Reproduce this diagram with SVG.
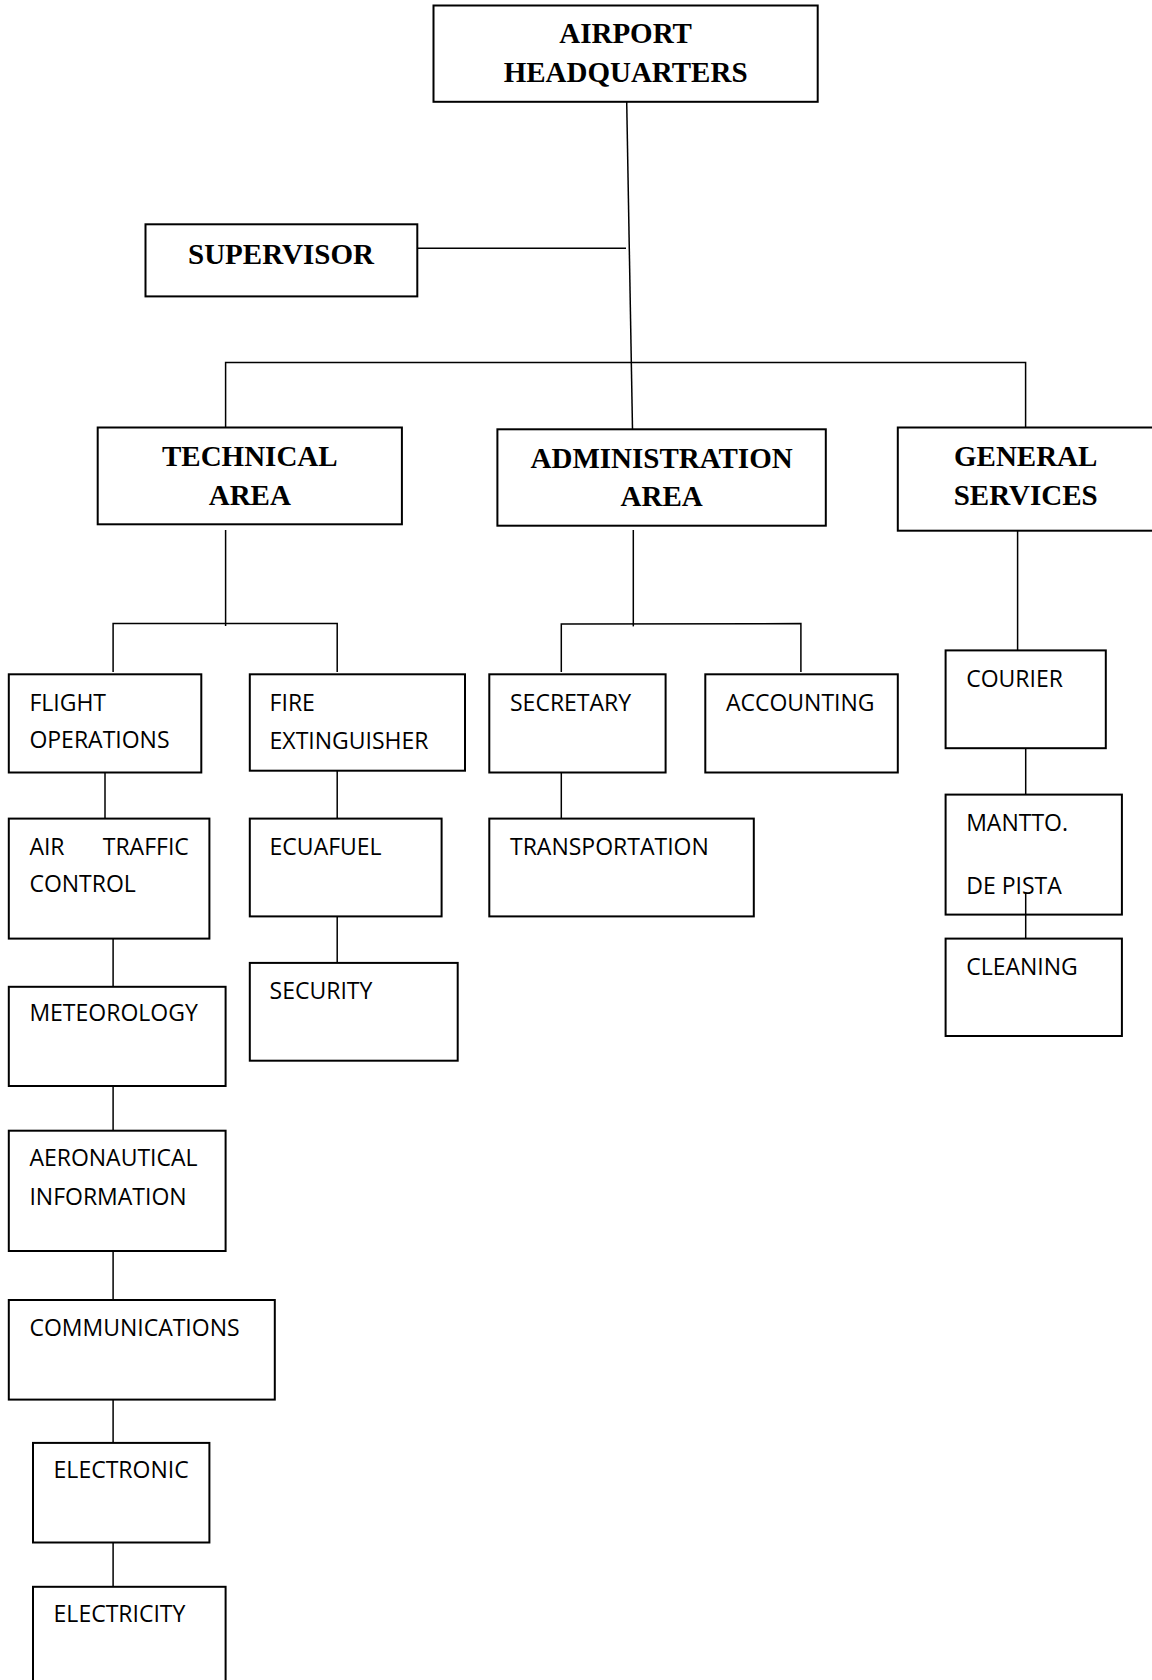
<svg xmlns="http://www.w3.org/2000/svg" width="1152" height="1680" viewBox="0 0 1152 1680">
<style>
rect{fill:#fff;stroke:#000;stroke-width:2}
.c line,.c path{stroke:#000;stroke-width:1.5;fill:none}
.t{font-family:"Liberation Serif","Times New Roman",serif;font-weight:bold;font-size:29px;text-anchor:middle;fill:#000}
.b{font-family:"Open Sans","Noto Sans",sans-serif;font-size:23px;fill:#000}
</style>
<rect x="0" y="0" width="1152" height="1680" style="stroke:none"/>
<g class="c" id="connectors">
<line x1="626.7" y1="101.8" x2="632.6" y2="435"/>
<line x1="417.3" y1="248.2" x2="626" y2="248.2"/>
<path d="M225.6,435 V362.5 H1025.6 V435"/>
<line x1="225.6" y1="530" x2="225.6" y2="626"/>
<path d="M113.1,672 V623.6 H337.2 V672"/>
<line x1="633.3" y1="530" x2="633.3" y2="626.4"/>
<path d="M561.3,672 V624 L800.9,623.6 V672"/>
<line x1="1017.6" y1="530.7" x2="1017.6" y2="650.4"/>
<line x1="105" y1="770.7" x2="105" y2="818.6"/>
<line x1="337.2" y1="770.7" x2="337.2" y2="818.6"/>
<line x1="337.2" y1="914.6" x2="337.2" y2="962.9"/>
<line x1="561.3" y1="770.7" x2="561.3" y2="818.6"/>
<line x1="113.1" y1="938.6" x2="113.1" y2="986.8"/>
<line x1="113.1" y1="1082.5" x2="113.1" y2="1130.7"/>
<line x1="113.1" y1="1251" x2="113.1" y2="1300"/>
<line x1="113.1" y1="1394.3" x2="113.1" y2="1442.9"/>
<line x1="113.1" y1="1537.9" x2="113.1" y2="1586.8"/>
<line x1="1025.7" y1="745.7" x2="1025.7" y2="794.6"/>
</g>
<g id="hq"><rect x="433.5" y="5.5" width="384.2" height="96.3"/><text class="t" x="625.6" y="43">AIRPORT</text><text class="t" x="625.6" y="82">HEADQUARTERS</text></g>
<g id="supervisor"><rect x="145.5" y="224.3" width="271.8" height="72.1"/><text class="t" x="281" y="263.5">SUPERVISOR</text></g>
<g id="technical"><rect x="97.7" y="427.5" width="304.2" height="96.8"/><text class="t" x="249.8" y="466">TECHNICAL</text><text class="t" x="249.8" y="505.4">AREA</text></g>
<g id="administration"><rect x="497.4" y="429.3" width="328.4" height="96.4"/><text class="t" x="661.6" y="468">ADMINISTRATION</text><text class="t" x="661.6" y="506.4">AREA</text></g>
<g id="general"><rect x="897.8" y="427.5" width="260" height="103.2"/><text class="t" x="1025.7" y="466">GENERAL</text><text class="t" x="1025.7" y="505.4">SERVICES</text></g>
<g id="flight"><rect x="8.8" y="674.3" width="192.5" height="98.2"/><text class="b" x="29.4" y="710.7">FLIGHT</text><text class="b" x="29.4" y="747.5">OPERATIONS</text></g>
<g id="fire"><rect x="249.8" y="674.3" width="215.2" height="96.4"/><text class="b" x="269.6" y="710.7">FIRE</text><text class="b" x="269.6" y="748.5">EXTINGUISHER</text></g>
<g id="secretary"><rect x="489.3" y="674.3" width="176.3" height="98.2"/><text class="b" x="510" y="710.7">SECRETARY</text></g>
<g id="accounting"><rect x="705.3" y="674.3" width="192.5" height="98.2"/><text class="b" x="725.9" y="710.7">ACCOUNTING</text></g>
<g id="courier"><rect x="945.6" y="650.4" width="160.2" height="97.8"/><text class="b" x="966.2" y="686.8">COURIER</text></g>
<g id="atc"><rect x="8.8" y="818.6" width="200.6" height="120"/><text class="b" x="29.4" y="854.6">AIR</text><text class="b" x="188.8" y="854.6" text-anchor="end">TRAFFIC</text><text class="b" x="29.4" y="892">CONTROL</text></g>
<g id="ecuafuel"><rect x="249.8" y="818.6" width="191.8" height="97.8"/><text class="b" x="269.6" y="854.6">ECUAFUEL</text></g>
<g id="transportation"><rect x="489.3" y="818.6" width="264.5" height="97.8"/><text class="b" x="510" y="854.6">TRANSPORTATION</text></g>
<g id="mantto"><rect x="945.6" y="794.6" width="176.3" height="120"/><text class="b" x="966.2" y="831.4">MANTTO.</text><text class="b" x="966.2" y="894">DE PISTA</text></g>
<g id="cleaning"><rect x="945.6" y="938.6" width="176.3" height="97.4"/><text class="b" x="966.2" y="975">CLEANING</text></g>
<g id="security"><rect x="249.8" y="962.9" width="207.9" height="97.8"/><text class="b" x="269.6" y="998.6">SECURITY</text></g>
<g id="meteorology"><rect x="8.8" y="986.8" width="216.8" height="99.2"/><text class="b" x="29.4" y="1021.4">METEOROLOGY</text></g>
<g id="aeronautical"><rect x="8.8" y="1130.7" width="216.8" height="120.3"/><text class="b" x="29.4" y="1166.4">AERONAUTICAL</text><text class="b" x="29.4" y="1204.6">INFORMATION</text></g>
<g id="communications"><rect x="8.8" y="1300" width="266" height="99.6"/><text class="b" x="29.4" y="1336">COMMUNICATIONS</text></g>
<g id="electronic"><rect x="33" y="1442.9" width="176.4" height="99.6"/><text class="b" x="53.6" y="1478.2">ELECTRONIC</text></g>
<g id="electricity"><rect x="33" y="1586.8" width="192.6" height="110"/><text class="b" x="53.6" y="1621.8">ELECTRICITY</text></g>
<g class="c" id="overlap-connectors">
<line x1="1025.7" y1="892" x2="1025.7" y2="938.6"/>
</g>
</svg>
